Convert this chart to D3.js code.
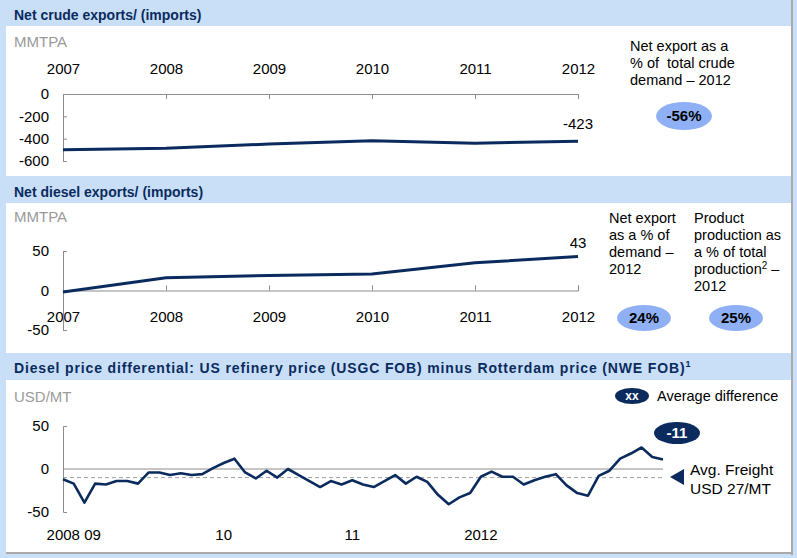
<!DOCTYPE html>
<html>
<head>
<meta charset="utf-8">
<title>Net exports and diesel price differential</title>
<script src="https://cdn.jsdelivr.net/npm/d3@7/dist/d3.min.js"></script>
<style>
  body { margin: 0; background: #c8dff7; }
  svg { display: block; font-family: "Liberation Sans", Arial, sans-serif; }
  svg text { white-space: pre; }
  .axis path, .axis line { stroke: #8c8c8c; stroke-width: 1; }
  .axis text { fill: #000; font-size: 15px; font-family: "Liberation Sans", Arial, sans-serif; }
</style>
</head>
<body>
<div id="chart"></div>
<script>
// ---- data ----
var years = [2007, 2008, 2009, 2010, 2011, 2012];
var crudeValues = [-500, -486, -448, -418, -441, -423];
var crudeTicks = [0, -200, -400, -600];
var dieselValues = [-2, 16, 19, 21, 35, 43];
var dieselTicks = [50, 0, -50];

// monthly diesel price differential, USD/MT
var diffValues = [-12, -17, -39, -17, -18, -14, -14, -17, -4, -4,
                  -7, -5, -7, -6, 1, 7, 12, -4, -11, -2,
                  -10, 0, -7, -14, -21, -14, -18, -13, -18, -21,
                  -14, -7, -17, -9, -15, -30, -41, -33, -28, -9,
                  -3, -9, -9, -18, -13, -9, -6, -19, -28, -31,
                  -8, -2, 12, 18, 25, 14, 11];
var diffTickLabels = ["2008 09", "10", "11", "2012"];
var diffTickIdx = [1, 15, 27, 39];
var diffTicks = [50, 0, -50];
var avgFreight = -10;

var navy = "#0b2b5e";
var lightBlue = "#c8dff7";
var bubble = "#8fb0f5";
var plain = function(d) { return String(d); };   // keep hyphen minus like the source

var svg = d3.select("#chart").append("svg")
    .attr("width", 797)
    .attr("height", 558);

svg.append("rect").attr("width", 797).attr("height", 558).attr("fill", lightBlue);

// shadow + white panels
svg.append("rect").attr("x", 791).attr("y", 0).attr("width", 2).attr("height", 555).attr("fill", "#a9a9a9");
svg.append("rect").attr("x", 6).attr("y", 552).attr("width", 787).attr("height", 2).attr("fill", "#a9a9a9");
[[26, 176], [203, 353], [380, 552]].forEach(function(p) {
  svg.append("rect").attr("x", 6).attr("y", p[0]).attr("width", 785).attr("height", p[1] - p[0]).attr("fill", "#fff");
});

// headers
function header(y, txt, sup, spacing) {
  var t = svg.append("text").attr("x", 14).attr("y", y)
    .attr("fill", navy).attr("font-weight", "bold").attr("font-size", "14px")
    .attr("letter-spacing", spacing || 0).text(txt);
  if (sup) t.append("tspan").attr("font-size", "9px").attr("dy", -6).text(sup);
}
header(20, "Net crude exports/ (imports)");
header(197, "Net diesel exports/ (imports)");
header(373, "Diesel price differential: US refinery price (USGC FOB) minus Rotterdam price (NWE FOB)", "1", "0.85px");

function unit(y, txt) {
  svg.append("text").attr("x", 14).attr("y", y).attr("fill", "#9a9a9a").attr("font-size", "15px").text(txt);
}
unit(47, "MMTPA");
unit(222, "MMTPA");
unit(402, "USD/MT");

function lines(x, y0, arr, size) {
  var t = svg.append("text").attr("font-size", size || "14.5px").attr("fill", "#000");
  arr.forEach(function(s, i) {
    t.append("tspan").attr("x", x).attr("y", y0 + i * 17).text(s);
  });
  return t;
}

function ellipse(cx, cy, rx, ry, fill, txt, color) {
  svg.append("ellipse").attr("cx", cx).attr("cy", cy).attr("rx", rx).attr("ry", ry).attr("fill", fill);
  svg.append("text").attr("x", cx).attr("y", cy).attr("dy", "0.36em")
    .attr("text-anchor", "middle").attr("font-weight", "bold").attr("font-size", "15px")
    .attr("fill", color).text(txt);
}

var x = d3.scaleLinear().domain([2007, 2012]).range([63, 578]);

// ---- crude chart ----
var yC = d3.scaleLinear().domain([-600, 0]).range([161, 94]);
var gC = svg.append("g");

gC.append("g").attr("class", "axis")
  .attr("transform", "translate(0," + yC(0) + ")")
  .call(d3.axisBottom(x).tickValues(years).tickFormat(plain).tickSize(5))
  .call(function(g) { g.selectAll("text").attr("y", -20).attr("dy", 0); });

gC.append("g").attr("class", "axis")
  .attr("transform", "translate(" + x(2007) + ",0)")
  .call(d3.axisLeft(yC).tickValues(crudeTicks).tickFormat(plain).tickSize(-4).tickSizeOuter(-4).tickPadding(14));

gC.append("path").datum(crudeValues)
  .attr("fill", "none").attr("stroke", navy).attr("stroke-width", 3)
  .attr("d", d3.line().x(function(d, i) { return x(years[i]); }).y(function(d) { return yC(d); }));

gC.append("text").attr("x", x(2012)).attr("y", yC(crudeValues[5]) - 12)
  .attr("text-anchor", "middle").attr("font-size", "15px").text(crudeValues[5]);

lines(630, 51, ["Net export as a", "% of  total crude", "demand \u2013 2012"]);
ellipse(684, 116, 28, 14, bubble, "-56%", "#000");

// ---- diesel chart ----
var yD = d3.scaleLinear().domain([-50, 50]).range([330, 251]);
var gD = svg.append("g");

gD.append("g").attr("class", "axis")
  .attr("transform", "translate(0," + yD(0) + ")")
  .call(d3.axisTop(x).tickValues(years).tickFormat(plain).tickSize(5))
  .call(function(g) { g.selectAll("text").attr("y", 31).attr("dy", 0); });

gD.append("g").attr("class", "axis")
  .attr("transform", "translate(" + x(2007) + ",0)")
  .call(d3.axisLeft(yD).tickValues(dieselTicks).tickFormat(plain).tickSize(-4).tickSizeOuter(-4).tickPadding(14));

gD.append("path").datum(dieselValues)
  .attr("fill", "none").attr("stroke", navy).attr("stroke-width", 3)
  .attr("d", d3.line().x(function(d, i) { return x(years[i]); }).y(function(d) { return yD(d); }));

gD.append("text").attr("x", x(2012)).attr("y", yD(dieselValues[5]) - 9)
  .attr("text-anchor", "middle").attr("font-size", "15px").text(dieselValues[5]);

lines(609, 223, ["Net export", "as a % of", "demand \u2013", "2012"]);
var prod = lines(694, 223, ["Product", "production as", "a % of total", "production", "2012"]);
prod.selectAll("tspan").filter(function(d, i) { return i === 3; })
  .each(function() {
    var t = d3.select(this);
    t.append("tspan").attr("font-size", "10px").attr("dy", -5).text("2");
    t.append("tspan").attr("dy", 5).text(" \u2013");
  });
ellipse(644, 318, 27, 13, bubble, "24%", "#000");
ellipse(736, 318, 27, 13, bubble, "25%", "#000");

// ---- price differential chart ----
var xM = d3.scaleLinear().domain([0, diffValues.length - 1]).range([63, 663]);
var yM = d3.scaleLinear().domain([-50, 50]).range([512, 426]);
var gM = svg.append("g");

gM.append("line").attr("x1", xM(0)).attr("x2", xM(diffValues.length - 1))
  .attr("y1", yM(0)).attr("y2", yM(0)).attr("stroke", "#8c8c8c");
gM.append("line").attr("x1", xM(0)).attr("x2", xM(diffValues.length - 1))
  .attr("y1", yM(avgFreight)).attr("y2", yM(avgFreight))
  .attr("stroke", "#a0a0a0").attr("stroke-dasharray", "4,3");

gM.append("g").attr("class", "axis")
  .attr("transform", "translate(" + xM(0) + ",0)")
  .call(d3.axisLeft(yM).tickValues(diffTicks).tickFormat(plain).tickSize(0).tickSizeOuter(-4).tickPadding(14));

gM.selectAll(".xlab").data(diffTickLabels).enter().append("text")
  .attr("class", "xlab")
  .attr("x", function(d, i) { return xM(diffTickIdx[i]); })
  .attr("y", 540).attr("text-anchor", "middle").attr("font-size", "15px")
  .text(function(d) { return d; });

gM.append("path").datum(diffValues)
  .attr("fill", "none").attr("stroke", navy).attr("stroke-width", 2.6).attr("stroke-linejoin", "round")
  .attr("d", d3.line().x(function(d, i) { return xM(i); }).y(function(d) { return yM(d); }));

// legend + annotations
ellipse(632, 396, 17, 8, navy, "", "#fff");
svg.append("text").attr("x", 632).attr("y", 396).attr("dy", "0.35em").attr("text-anchor", "middle")
  .attr("font-size", "12px").attr("font-weight", "bold").attr("fill", "#fff").text("xx");
svg.append("text").attr("x", 657).attr("y", 401).attr("font-size", "14.5px").text("Average difference");

ellipse(677, 433, 23, 11, navy, "-11", "#fff");

svg.append("path").attr("d", "M670,477L684,469L684,485Z").attr("fill", navy);
lines(690, 475, ["Avg. Freight", "USD 27/MT"], "15.5px").selectAll("tspan")
  .attr("y", function(d, i) { return 475 + i * 19; });
</script>
</body>
</html>
